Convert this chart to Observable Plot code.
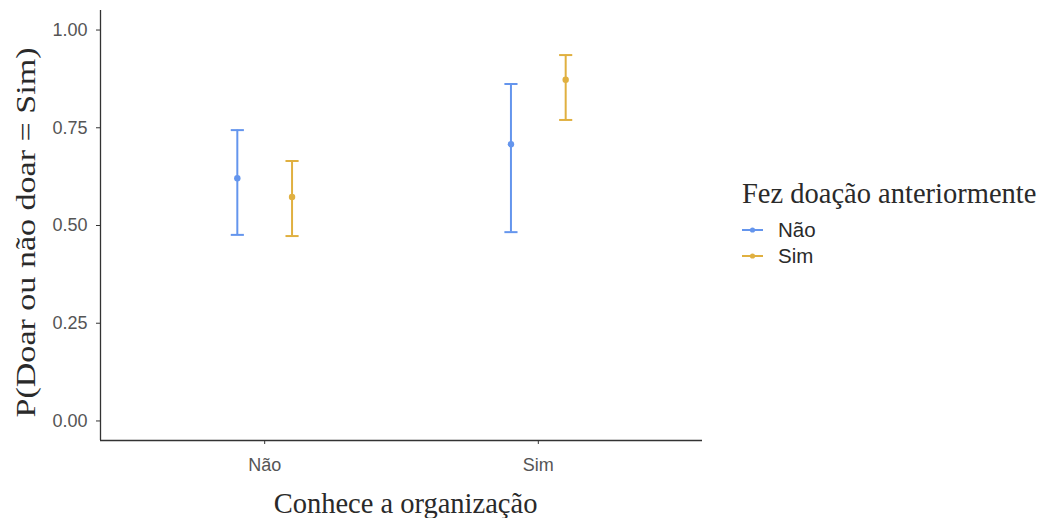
<!DOCTYPE html>
<html>
<head>
<meta charset="utf-8">
<script src="https://cdn.jsdelivr.net/npm/d3@7"></script>
<script src="https://cdn.jsdelivr.net/npm/@observablehq/plot@0.6"></script>
<style>
  body { margin: 0; background: #fff; }
  #wrap { position: relative; width: 1043px; height: 518px; }
  #legend .title { position: absolute; left: 742px; top: 180px; font-family: "Liberation Serif", "DejaVu Serif", serif; font-size: 28.5px; line-height: 28px; color: #2a2a2a; white-space: nowrap; }
  #legend .item { position: absolute; left: 741px; display: flex; align-items: center; font-family: "Liberation Sans", Arial, sans-serif; font-size: 20.5px; line-height: 20px; height: 20px; color: #2a2a2a; }
  #legend svg { margin-right: 14px; }
</style>
</head>
<body>
<div id="wrap"><div id="chart"></div><div id="legend"></div></div>
<script>
// Data
const categories = ["Não", "Sim"];            // Conhece a organização
const series = ["Não", "Sim"];                // Fez doação anteriormente
const colors = ["#6495ED", "#E0B040"];
// estimates [series][category]
const estimate = [[0.621, 0.708], [0.573, 0.873]];
const lower    = [[0.476, 0.483], [0.473, 0.770]];
const upper    = [[0.744, 0.862], [0.665, 0.936]];
const yTicks = [0, 0.25, 0.5, 0.75, 1];

const dodge = 0.2;     // dodge width in category units
const capHalf = 0.024; // half error-bar cap width in category units

const rows = [];
series.forEach((s, si) => categories.forEach((c, ci) => {
  const pos = ci + 1 + (si - 0.5) * dodge;
  rows.push({series: s, cat: c, pos, x1: pos - capHalf, x2: pos + capHalf,
             est: estimate[si][ci], lo: lower[si][ci], hi: upper[si][ci]});
}));

const sans = "'Liberation Sans', Arial, sans-serif";
const serif = "'Liberation Serif', 'DejaVu Serif', serif";

const plot = Plot.plot({
  width: 725,
  height: 518,
  marginLeft: 100,
  marginRight: 23,
  marginTop: 10,
  marginBottom: 78,
  style: {fontFamily: sans, fontSize: "18px", background: "#fff", overflow: "visible"},
  x: {type: "linear", domain: [0.4, 2.6], axis: null},
  y: {domain: [-0.05, 1.05], axis: null},
  color: {domain: series, range: colors},
  marks: [
    // axis lines
    Plot.ruleX([0.4], {y1: -0.05, y2: 1.05, stroke: "#333", strokeWidth: 1.3}),
    Plot.ruleY([-0.05], {x1: 0.4, x2: 2.6, stroke: "#333", strokeWidth: 1.3}),
    // axes
    Plot.axisY(yTicks, {anchor: "left", tickSize: 4, tickPadding: 9, stroke: "#333",
      tickFormat: d3.format(".2f"), fill: "#555", fontSize: 18, label: null}),
    Plot.axisX(categories.map((c, i) => i + 1), {anchor: "bottom", tickSize: 4, tickPadding: 14, stroke: "#333",
      tickFormat: i => categories[i - 1], fill: "#555", fontSize: 18, label: null}),
    // axis titles
    Plot.text(["Conhece a organização"], {x: 1.5, y: -0.05, dx: 4, dy: 63, text: d => d, fontFamily: serif, fontSize: 28.5, fill: "#2a2a2a"}),
    Plot.text(["P(Doar ou não doar = Sim)"], {x: 0.4, y: 0.5, dx: -74, dy: 7, rotate: -90, text: d => d, fontFamily: serif, fontSize: 28, fill: "#2a2a2a", className: "ytitle"}),
    // error bars
    Plot.ruleX(rows, {x: "pos", y1: "lo", y2: "hi", stroke: "series", strokeWidth: 2}),
    Plot.link(rows, {x1: "x1", x2: "x2", y1: "lo", y2: "lo", stroke: "series", strokeWidth: 2}),
    Plot.link(rows, {x1: "x1", x2: "x2", y1: "hi", y2: "hi", stroke: "series", strokeWidth: 2}),
    Plot.dot(rows, {x: "pos", y: "est", fill: "series", r: 3.2})
  ]
});
// stretch the y title to the reference's length
d3.select(plot).selectAll(".ytitle text").attr("textLength", 370).attr("lengthAdjust", "spacingAndGlyphs");
document.getElementById("chart").appendChild(plot);

// Legend
const leg = document.getElementById("legend");
const t = document.createElement("div");
t.className = "title";
t.textContent = "Fez doação anteriormente";
leg.appendChild(t);
const itemTops = [220, 246];
series.forEach((s, i) => {
  const it = document.createElement("div");
  it.className = "item";
  it.style.top = itemTops[i] + "px";
  it.innerHTML = `<svg width="23" height="10"><line x1="1" x2="22" y1="5" y2="5" stroke="${colors[i]}" stroke-width="2"/><circle cx="11.5" cy="5" r="2.6" fill="${colors[i]}"/></svg><span>${s}</span>`;
  leg.appendChild(it);
});
</script>
</body>
</html>
